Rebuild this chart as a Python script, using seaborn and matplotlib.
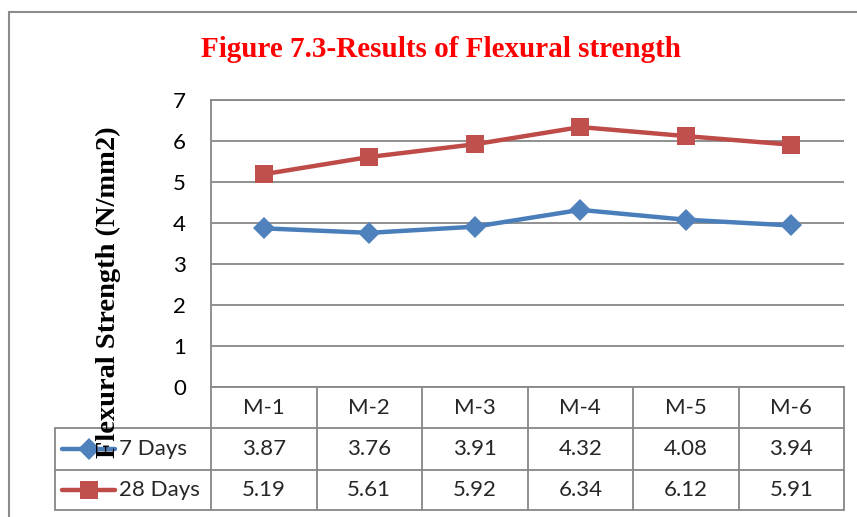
import matplotlib
matplotlib.use("Agg")
import matplotlib.pyplot as plt
import seaborn as sns
import pandas as pd
from matplotlib import transforms
from matplotlib.lines import Line2D

# ---- data ----
mixes = ["M-1", "M-2", "M-3", "M-4", "M-5", "M-6"]
days7 = [3.87, 3.76, 3.91, 4.32, 4.08, 3.94]
days28 = [5.19, 5.61, 5.92, 6.34, 6.12, 5.91]
series_names = ["7 Days", "28 Days"]
yticks = [0, 1, 2, 3, 4, 5, 6, 7]
title = "Figure 7.3-Results of Flexural strength"
ylabel = "Flexural Strength (N/mm2)"

# ---- style ----
line_colors = {"7 Days": "#4A7EBB", "28 Days": "#BE4B48"}
marker_colors = {"7 Days": "#4F81BD", "28 Days": "#C0504D"}
markers = {"7 Days": "D", "28 Days": "s"}
msizes = {"7 Days": 11, "28 Days": 13}
grid_c = "#878787"
fs = 16

sns.set_theme(style="white")
plt.rcParams['font.family'] = ['Lato', 'DejaVu Sans']

W, H = 857, 517
fig = plt.figure(figsize=(W / 100, H / 100), dpi=100)
fig.patch.set_facecolor("white")


def fx(x):
    return x / W


def fy(y):
    return 1 - y / H


ax = fig.add_axes([fx(211), fy(387), fx(844) - fx(211), fy(100) - fy(387)])

df = pd.DataFrame({
    "Mix": mixes * 2,
    "Strength": days7 + days28,
    "Series": [series_names[0]] * len(mixes) + [series_names[1]] * len(mixes),
})
sns.lineplot(data=df, x="Mix", y="Strength", hue="Series", style="Series",
             markers=markers, dashes=False, palette=line_colors,
             linewidth=3.2, legend=False, ax=ax, sort=False, zorder=3)
for ln, name in zip(ax.lines, series_names):
    ln.set_markersize(msizes[name])
    ln.set_markerfacecolor(marker_colors[name])
    ln.set_markeredgecolor(marker_colors[name])
    ln.set_markeredgewidth(0)
    ln.set_clip_on(False)

ax.set_xlim(-0.5, len(mixes) - 0.5)
ax.set_ylim(0, 7)
ax.set_yticks(yticks)
ax.set_yticklabels([str(t) for t in yticks], fontsize=fs, color="black")
ax.set_xticks([])
ax.set_xlabel("")
ax.set_ylabel("")
ax.tick_params(axis="y", length=0, pad=18)
ax.yaxis.grid(True, color=grid_c, linewidth=1.3)
ax.set_axisbelow(True)
for side in ["left", "top", "bottom"]:
    ax.spines[side].set_visible(True)
    ax.spines[side].set_color(grid_c)
    ax.spines[side].set_linewidth(1.3)
ax.spines["right"].set_visible(False)

# ---- data table ----
bt = transforms.blended_transform_factory(ax.transData, fig.transFigure)
ft = fig.transFigure
y_axis, y_r1, y_r2, y_bot = 387, 428, 470, 510
for k in range(len(mixes) + 1):
    fig.add_artist(Line2D([k - 0.5, k - 0.5], [fy(y_axis), fy(y_bot)], transform=bt,
                          color=grid_c, lw=1.3))
for yy in (y_r1, y_r2, y_bot):
    fig.add_artist(Line2D([fx(55), fx(844)], [fy(yy), fy(yy)], transform=ft,
                          color=grid_c, lw=1.3))
fig.add_artist(Line2D([fx(55), fx(55)], [fy(y_r1), fy(y_bot)], transform=ft,
                      color=grid_c, lw=1.3))

hdr_y = (y_axis + y_r1) / 2
for i, m in enumerate(mixes):
    fig.text(i, fy(hdr_y), m, transform=bt, ha="center", va="center", fontsize=fs)

rows = [(series_names[0], days7, (y_r1 + y_r2) / 2),
        (series_names[1], days28, (y_r2 + y_bot) / 2)]
for name, vals, yc in rows:
    for i, v in enumerate(vals):
        fig.text(i, fy(yc), f"{v:.2f}", transform=bt, ha="center", va="center", fontsize=fs)
    fig.add_artist(Line2D([fx(62), fx(115)], [fy(yc), fy(yc)], transform=ft,
                          color=line_colors[name], lw=3.2, solid_capstyle="round"))
    fig.add_artist(Line2D([fx(88.5)], [fy(yc)], transform=ft, marker=markers[name],
                          markersize=msizes[name], markerfacecolor=marker_colors[name],
                          markeredgewidth=0, linestyle="none"))
    fig.text(fx(119), fy(yc), name, transform=ft, ha="left", va="center", fontsize=fs)

# ---- title & axis label ----
fig.text(fx(441), fy(50), title, ha="center", va="center", fontsize=21,
         fontweight="bold", color="#FF0000", family=["Liberation Serif", "DejaVu Serif"])
fig.text(fx(108), fy(292), ylabel, ha="center", va="center", rotation=90, fontsize=20.5,
         fontweight="bold", color="black", family=["Liberation Serif", "DejaVu Serif"],
         zorder=5)

# ---- outer chart border ----
fig.add_artist(Line2D([fx(9), fx(857)], [fy(12), fy(12)], transform=ft, color="#8C8C8C", lw=1.5))
fig.add_artist(Line2D([fx(9), fx(9)], [fy(12), fy(517)], transform=ft, color="#8C8C8C", lw=1.5))

fig.savefig("out.png", dpi=100, facecolor="white")
